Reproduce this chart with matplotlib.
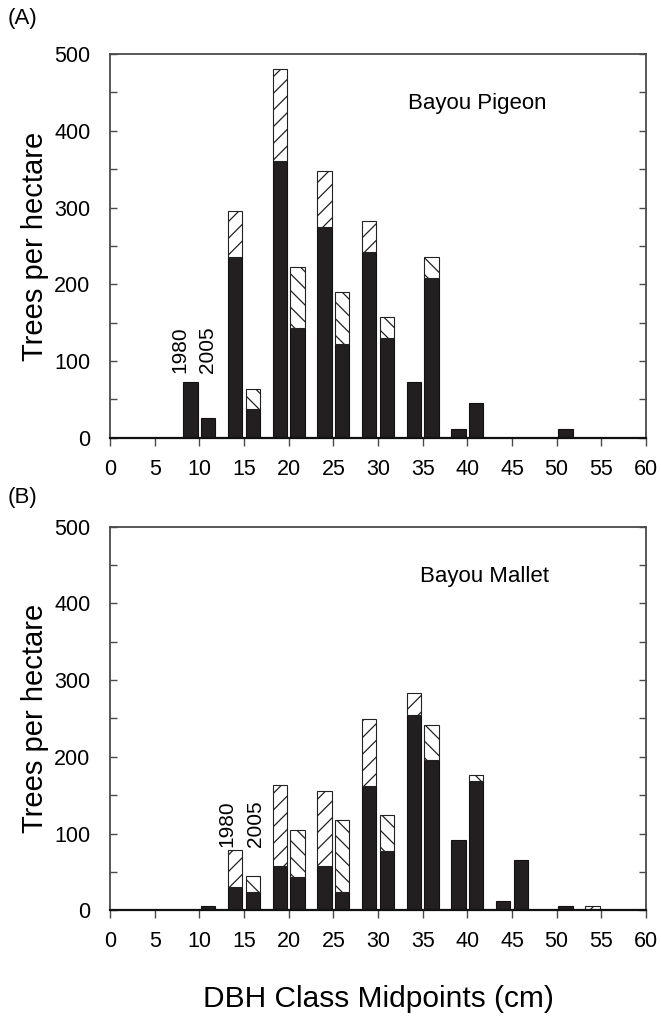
import matplotlib.pyplot as plt
import numpy as np

plt.rcParams['font.family'] = ['Liberation Sans', 'DejaVu Sans']
plt.rcParams['hatch.linewidth'] = 0.9

# DBH class midpoints (cm)
classes = [10, 15, 20, 25, 30, 35, 40, 45, 50, 55]

# Bayou Pigeon - black part and total bar height (trees per hectare)
pigeon_1980_black = [72, 235, 360, 274, 242, 72, 12, 0, 0, 0]
pigeon_1980_total = [72, 295, 480, 348, 282, 72, 12, 0, 0, 0]
pigeon_2005_black = [26, 37, 143, 122, 130, 208, 45, 0, 12, 0]
pigeon_2005_total = [26, 64, 223, 190, 157, 236, 45, 0, 12, 0]

# Bayou Mallet
mallet_1980_black = [0, 30, 58, 58, 162, 255, 91, 12, 0, 0]
mallet_1980_total = [0, 78, 163, 156, 249, 283, 91, 12, 0, 5]
mallet_2005_black = [6, 24, 43, 24, 77, 196, 168, 65, 6, 0]
mallet_2005_total = [6, 44, 104, 117, 124, 242, 176, 65, 6, 0]

dark = '#231f20'
spine_col = '#4a4a4a'


def draw_pair(ax, x, black, total, hatch):
    x = np.asarray(x, dtype=float)
    black = np.asarray(black, dtype=float)
    top = np.asarray(total, dtype=float) - black
    m = black > 0
    ax.bar(x[m], black[m], width=1.6, color=dark, edgecolor='#111111', linewidth=0.8, zorder=2)
    m = top > 0
    ax.bar(x[m], top[m], bottom=black[m], width=1.6, color='white', edgecolor='#222222',
           linewidth=0.8, hatch=hatch, zorder=2)


def panel(ax, b80, t80, b05, t05, name, name_xy, lab_x, lab_y):
    x = np.array(classes, dtype=float)
    draw_pair(ax, x - 1.0, b80, t80, '//')
    draw_pair(ax, x + 1.0, b05, t05, '\\\\')
    ax.set_xlim(0, 60)
    ax.set_ylim(0, 500)
    ax.set_xticks(np.arange(0, 61, 5))
    ax.set_yticks(np.arange(0, 501, 100))
    ax.set_yticks(np.arange(50, 500, 100), minor=True)
    ax.tick_params(axis='x', direction='out', length=6, width=1.0, pad=9,
                   labelsize=15.5, color=spine_col, top=False)
    ax.tick_params(axis='y', which='both', direction='in', length=5, width=1.0, pad=14,
                   labelsize=15.5, color=spine_col, right=True)
    for s in ax.spines.values():
        s.set_color(spine_col)
        s.set_linewidth(1.3)
    ax.spines['bottom'].set_color('#111111')
    ax.spines['bottom'].set_linewidth(1.6)
    ax.set_ylabel('Trees per hectare', fontsize=21, labelpad=4)
    ax.text(name_xy[0], name_xy[1], name, fontsize=16, ha='left', va='center')
    ax.text(lab_x[0], lab_y, '1980', rotation=90, fontsize=15, ha='center', va='bottom')
    ax.text(lab_x[1], lab_y, '2005', rotation=90, fontsize=15, ha='center', va='bottom')


fig = plt.figure(figsize=(6.61, 10.23), dpi=100)
ax1 = fig.add_axes([0.1664, 0.5721, 0.8109, 0.3751])
ax2 = fig.add_axes([0.1664, 0.1102, 0.8109, 0.3751])

panel(ax1, pigeon_1980_black, pigeon_1980_total, pigeon_2005_black, pigeon_2005_total,
      'Bayou Pigeon', (33.4, 436), (7.8, 10.9), 85)
panel(ax2, mallet_1980_black, mallet_1980_total, mallet_2005_black, mallet_2005_total,
      'Bayou Mallet', (34.7, 435), (13.1, 16.3), 82)

ax2.set_xlabel('DBH Class Midpoints (cm)', fontsize=21.5, labelpad=24)

fig.text(0.011, 0.982, '(A)', fontsize=16, ha='left', va='center')
fig.text(0.011, 0.514, '(B)', fontsize=16, ha='left', va='center')

fig.savefig('out.png', dpi=100)
